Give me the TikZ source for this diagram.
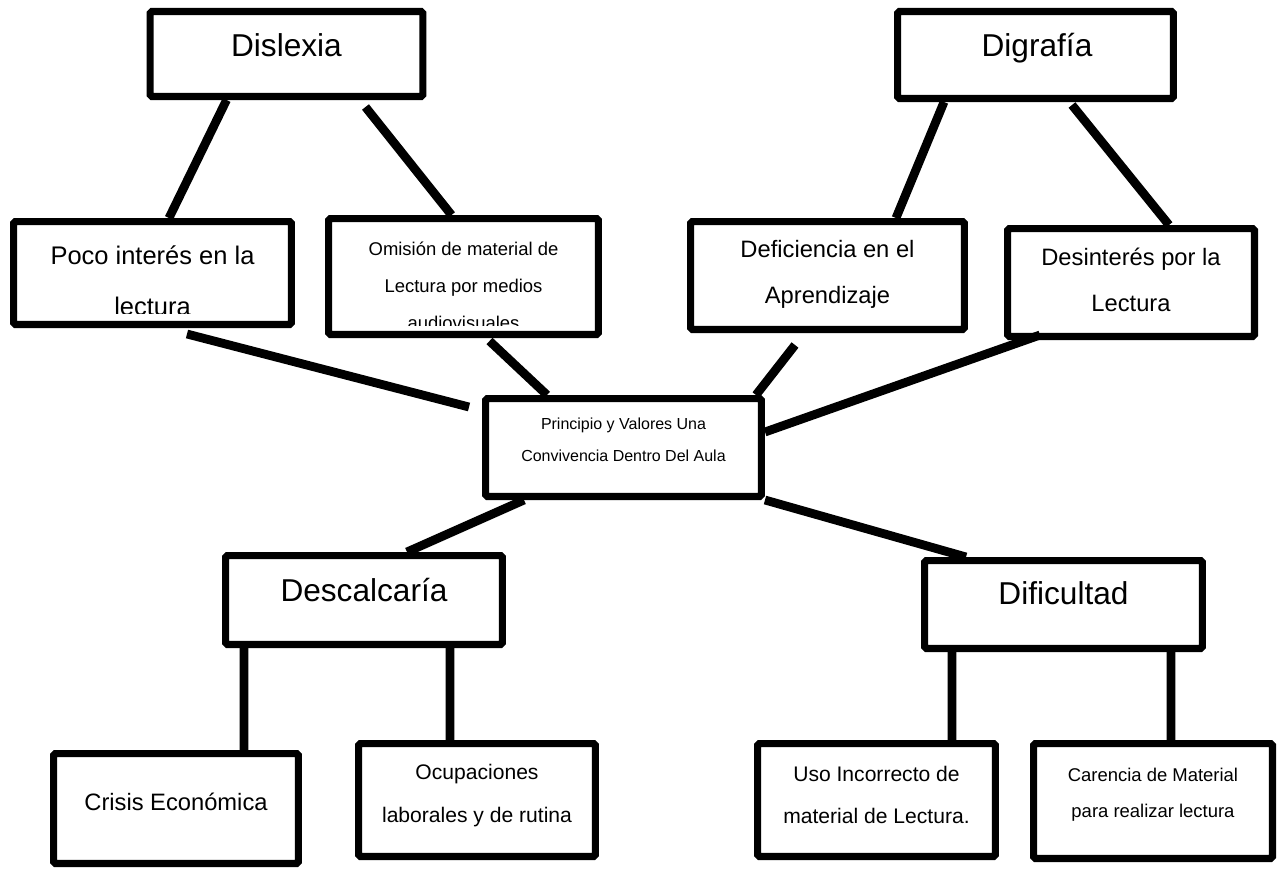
\documentclass[tikz,border=0pt]{standalone}
\usepackage{fontspec}
\setmainfont{Liberation Sans}
\usetikzlibrary{shadows}
\tikzset{
	box/.style={draw,rectangle,line width=4pt,fill=white,inner sep=0pt,rounded corners=1pt,
		drop shadow={shadow xshift=1pt,shadow yshift=-1.5pt,opacity=.3}},
	txt/.style={align=center,inner sep=0pt},
	link/.style={line width=5pt},
	headtext/.style={font=\fontsize{18}{22}\selectfont},
	bigtext/.style={font=\fontsize{14.5}{29}\selectfont},
	midtext/.style={font=\fontsize{13.5}{26.5}\selectfont},
	smalltext/.style={font=\fontsize{12}{24}\selectfont},
	tinytext/.style={font=\fontsize{10.5}{20.5}\selectfont},
	centretext/.style={font=\fontsize{9.1}{18.2}\selectfont}
}
\begin{document}
\begin{tikzpicture}[x=0.02cm,y=-0.02cm]
	\useasboundingbox (0,0) rectangle (1282,869);
	% boxes
	\node[box,minimum width=5.46cm,minimum height=1.70cm] (dislexia) at (286.5,54) {};
	\node[box,minimum width=5.52cm,minimum height=1.74cm] (digrafia) at (1035.5,55) {};
	\node[box,minimum width=5.56cm,minimum height=2.06cm] (poco) at (152.5,273) {};
	\node[box,minimum width=5.40cm,minimum height=2.32cm] (omision) at (463.5,276.5) {};
	\node[box,minimum width=5.48cm,minimum height=2.16cm] (deficiencia) at (827.5,275.5) {};
	\node[box,minimum width=4.94cm,minimum height=2.16cm] (desinteres) at (1131,282.5) {};
	\node[box,minimum width=5.52cm,minimum height=1.96cm] (centro) at (623.5,447.5) {};
	\node[box,minimum width=5.54cm,minimum height=1.78cm] (descalcaria) at (364,600) {};
	\node[box,minimum width=5.56cm,minimum height=1.76cm] (dificultad) at (1063.5,604.5) {};
	\node[box,minimum width=4.90cm,minimum height=2.20cm] (crisis) at (176,808.5) {};
	\node[box,minimum width=4.74cm,minimum height=2.26cm] (ocupaciones) at (477,800) {};
	\node[box,minimum width=4.76cm,minimum height=2.26cm] (uso) at (876.5,800) {};
	\node[box,minimum width=4.78cm,minimum height=2.30cm] (carencia) at (1153,801) {};

	% connectors
	\draw[link] ([xshift=-1.2cm]dislexia.south) -- ([xshift=0.33cm]poco.north);
	\draw[link] ([xshift=1.58cm,yshift=-0.14cm]dislexia.south) -- ([xshift=-0.24cm]omision.north);
	\draw[link] ([xshift=-1.83cm]digrafia.south) -- ([xshift=1.37cm]deficiencia.north);
	\draw[link] ([xshift=0.73cm,yshift=-0.06cm]digrafia.south) -- ([xshift=0.76cm]desinteres.north);
	\draw[link] ([xshift=0.69cm,yshift=-0.12cm]poco.south) -- ([xshift=-0.26cm,yshift=0.81cm]centro.west);
	\draw[link] ([xshift=0.52cm,yshift=-0.06cm]omision.south) -- ([xshift=-1.53cm]centro.north);
	\draw[link] ([xshift=-0.65cm,yshift=-0.24cm]deficiencia.south) -- ([xshift=2.65cm]centro.north);
	\draw[link] ([xshift=-1.82cm,yshift=0.1cm]desinteres.south) -- ([yshift=0.31cm]centro.east);
	\draw[link] ([xshift=-1.99cm]centro.south) -- ([xshift=0.86cm]descalcaria.north);
	\draw[link] (centro.south east) -- ([xshift=-1.95cm]dificultad.north);
	\draw[link] ([xshift=-2.4cm]descalcaria.south) -- ([xshift=1.36cm]crisis.north);
	\draw[link] ([xshift=1.72cm]descalcaria.south) -- ([xshift=-0.54cm]ocupaciones.north);
	\draw[link] ([xshift=-2.23cm]dificultad.south) -- ([xshift=1.51cm]uso.north);
	\draw[link] ([xshift=2.15cm]dificultad.south) -- ([xshift=0.36cm]carencia.north);

	% texts
	\node[txt,headtext] (dislexiaT) at ([yshift=0.18cm]dislexia.center) {Dislexia};
	\node[txt,headtext] (digrafiaT) at ([xshift=0.03cm,yshift=0.14cm]digrafia.center) {Digrafía};
	\begin{scope}
		\clip ([shift={(0.2cm,0.3cm)}]poco.south west) rectangle ([shift={(-0.2cm,-0.2cm)}]poco.north east);
		\node[txt,bigtext] (pocoT) at ([yshift=-0.16cm]poco.center) {Poco interés en la\\lectura};
	\end{scope}
	\begin{scope}
		\clip ([shift={(0.2cm,0.25cm)}]omision.south west) rectangle ([shift={(-0.2cm,-0.2cm)}]omision.north east);
		\node[txt,tinytext,font=\fontsize{10.5}{21}\selectfont] (omisionT) at ([yshift=-0.18cm]omision.center) {Omisión de material de\\Lectura por medios\\audiovisuales};
	\end{scope}
	\node[txt,midtext] (deficienciaT) at ([yshift=0.02cm]deficiencia.center) {Deficiencia en el\\Aprendizaje};
	\node[txt,midtext] (desinteresT) at ([yshift=0.05cm]desinteres.center) {Desinterés por la\\Lectura};
	\node[txt,centretext] (centroT) at ([yshift=0.16cm]centro.center) {Principio y Valores Una\\Convivencia Dentro Del Aula};
	\node[txt,headtext] (descalcariaT) at ([yshift=0.2cm]descalcaria.center) {Descalcaría};
	\node[txt,headtext] (dificultadT) at ([yshift=0.23cm]dificultad.center) {Dificultad};
	\node[txt,midtext] (crisisT) at ([yshift=0.13cm]crisis.center) {Crisis Económica};
	\node[txt,smalltext] (ocupacionesT) at ([yshift=0.09cm]ocupaciones.center) {Ocupaciones\\laborales y de rutina};
	\node[txt,smalltext] (usoT) at ([yshift=0.1cm]uso.center) {Uso Incorrecto de\\material de Lectura.};
	\node[txt,tinytext] (carenciaT) at ([yshift=0.12cm]carencia.center) {Carencia de Material\\para realizar lectura};
\end{tikzpicture}
\end{document}
